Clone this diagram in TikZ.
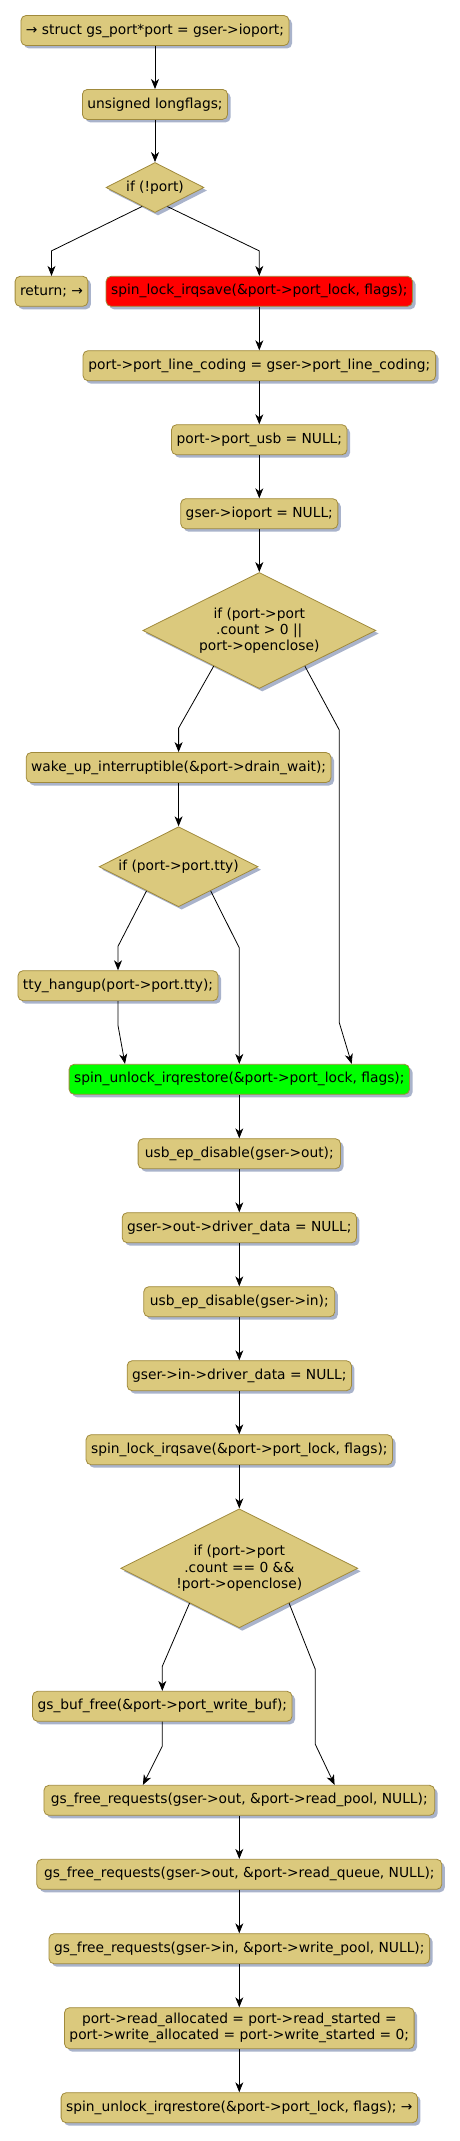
\documentclass[tikz,border=0pt]{standalone}
\usepackage{fontspec}
\setmainfont{DejaVu Sans}
\usetikzlibrary{arrows.meta,shapes.geometric,shadows}
\definecolor{khaki}{HTML}{DBC97D}
\definecolor{boxline}{HTML}{A08A3C}
\definecolor{shade}{HTML}{A9B3CB}
\definecolor{lockred}{HTML}{FF0000}
\definecolor{unlockgreen}{HTML}{00FF00}

\begin{document}
\begin{tikzpicture}[x=1pt,y=-1pt,
block/.style={draw=boxline,fill=khaki,rounded corners=5pt,minimum height=30pt,inner xsep=5pt,align=center,line width=0.8pt,font=\fontsize{13.8}{16.3}\selectfont,drop shadow={shadow xshift=3pt,shadow yshift=-3pt,fill=shade,opacity=1}},
test/.style={diamond,draw=boxline,fill=khaki,inner sep=0pt,aspect=2,align=center,line width=0.8pt,font=\fontsize{13.8}{16.3}\selectfont,drop shadow={shadow xshift=3pt,shadow yshift=-3pt,fill=shade,opacity=1}},
arrow/.style={-{Stealth[length=10pt,width=8pt,inset=3pt]},line width=0.8pt}
]
\useasboundingbox (0,0) rectangle (460,2141);

\node[block,minimum width=268pt] (start) at (155,30.5) {→ struct gs\_port*port = gser->ioport;};
\node[block,minimum width=144.6pt] (flags) at (155,104.4) {unsigned longflags;};
\node[test,minimum width=98pt,minimum height=50pt] (ifport) at (155,187.5) {if (!port)};
\node[block,minimum width=71.6pt] (ret) at (51.5,291.3) {return; →};
\node[block,minimum width=303.3pt,fill=lockred] (lock) at (259.3,291.3) {spin\_lock\_irqsave(\&port->port\_lock, flags);};
\node[block,minimum width=352.6pt] (coding) at (259.3,365.7) {port->port\_line\_coding = gser->port\_line\_coding;};
\node[block,minimum width=174pt] (usb) at (259.3,439.7) {port->port\_usb = NULL;};
\node[block,minimum width=155.6pt] (ionull) at (259.3,513.7) {gser->ioport = NULL;};
\node[test,minimum width=233pt,minimum height=116pt] (ifcount) at (259.3,630.5) {if (port->port\\.count > 0 ||\\port->openclose)};
\node[block,minimum width=299.6pt] (wake) at (178.6,767.5) {wake\_up\_interruptible(\&port->drain\_wait);};
\node[test,minimum width=159pt,minimum height=80pt] (iftty) at (178.6,866.7) {if (port->port.tty)};
\node[block,minimum width=194.6pt] (hangup) at (118,985.7) {tty\_hangup(port->port.tty);};
\node[block,minimum width=340pt,fill=unlockgreen] (unlock) at (239.3,1079.3) {spin\_unlock\_irqrestore(\&port->port\_lock, flags);};
\node[block,minimum width=202.4pt] (epout) at (239.3,1153.7) {usb\_ep\_disable(gser->out);};
\node[block,minimum width=230.6pt] (outnull) at (239.3,1227.7) {gser->out->driver\_data = NULL;};
\node[block,minimum width=191pt] (epin) at (239.3,1301.7) {usb\_ep\_disable(gser->in);};
\node[block,minimum width=220pt] (innull) at (239.3,1375.7) {gser->in->driver\_data = NULL;};
\node[block,minimum width=303.7pt] (relock) at (239.3,1449.7) {spin\_lock\_irqsave(\&port->port\_lock, flags);};
\node[test,minimum width=237pt,minimum height=119pt] (ifzero) at (239.3,1568.3) {if (port->port\\.count == 0 \&\&\\!port->openclose)};
\node[block,minimum width=258pt] (buf) at (162.3,1706.3) {gs\_buf\_free(\&port->port\_write\_buf);};
\node[block,minimum width=390.7pt] (reqout) at (239.3,1800.3) {gs\_free\_requests(gser->out, \&port->read\_pool, NULL);};
\node[block,minimum width=405pt] (readq) at (239.3,1874.3) {gs\_free\_requests(gser->out, \&port->read\_queue, NULL);};
\node[block,minimum width=380.6pt] (writep) at (239.3,1948.7) {gs\_free\_requests(gser->in, \&port->write\_pool, NULL);};
\node[block,minimum width=343.6pt,minimum height=41pt] (zeroed) at (239.3,2028.2) {port->read\_allocated = port->read\_started =\\port->write\_allocated = port->write\_started = 0;};
\node[block,minimum width=355.7pt] (finish) at (239.3,2107.7) {spin\_unlock\_irqrestore(\&port->port\_lock, flags); →};

\draw[arrow] (start) -- (flags);
\draw[arrow] (flags) -- (ifport);
\draw[arrow] (ifport.236) -- ([yshift=25pt]ret.north) -- (ret.north);
\draw[arrow] (ifport.303) -- ([yshift=25pt]lock.north) -- (lock.north);
\draw[arrow] (lock) -- (coding);
\draw[arrow] (coding) -- (usb);
\draw[arrow] (usb) -- (ionull);
\draw[arrow] (ionull) -- (ifcount);
\draw[arrow] (ifcount.218) -- ([yshift=24pt]wake.north) -- (wake.north);
\draw[arrow] (ifcount.322) -- (339.3,730) -- (339.3,1022.7) -- ([xshift=112.4pt]unlock.north);
\draw[arrow] (wake) -- (iftty);
\draw[arrow] (iftty.217) -- ([yshift=24pt]hangup.north) -- (hangup.north);
\draw[arrow] (iftty.323) -- ([yshift=116pt]unlock.north) -- (unlock.north);
\draw[arrow] (hangup.south) -- ([yshift=-24.3pt]hangup.south) -- ([xshift=-114.3pt]unlock.north);
\draw[arrow] (unlock) -- (epout);
\draw[arrow] (epout) -- (outnull);
\draw[arrow] (outnull) -- (epin);
\draw[arrow] (epin) -- (innull);
\draw[arrow] (innull) -- (relock);
\draw[arrow] (relock) -- (ifzero);
\draw[arrow] (ifzero.215) -- ([yshift=24.6pt]buf.north) -- (buf.north);
\draw[arrow] (ifzero.325) -- (315.3,1669.3) -- (315.3,1744.3) -- ([xshift=95.3pt]reqout.north);
\draw[arrow] (buf.south) -- ([yshift=-24.4pt]buf.south) -- ([xshift=-96.4pt]reqout.north);
\draw[arrow] (reqout) -- (readq);
\draw[arrow] (readq) -- (writep);
\draw[arrow] (writep) -- (zeroed);
\draw[arrow] (zeroed) -- (finish);
\end{tikzpicture}
\end{document}
